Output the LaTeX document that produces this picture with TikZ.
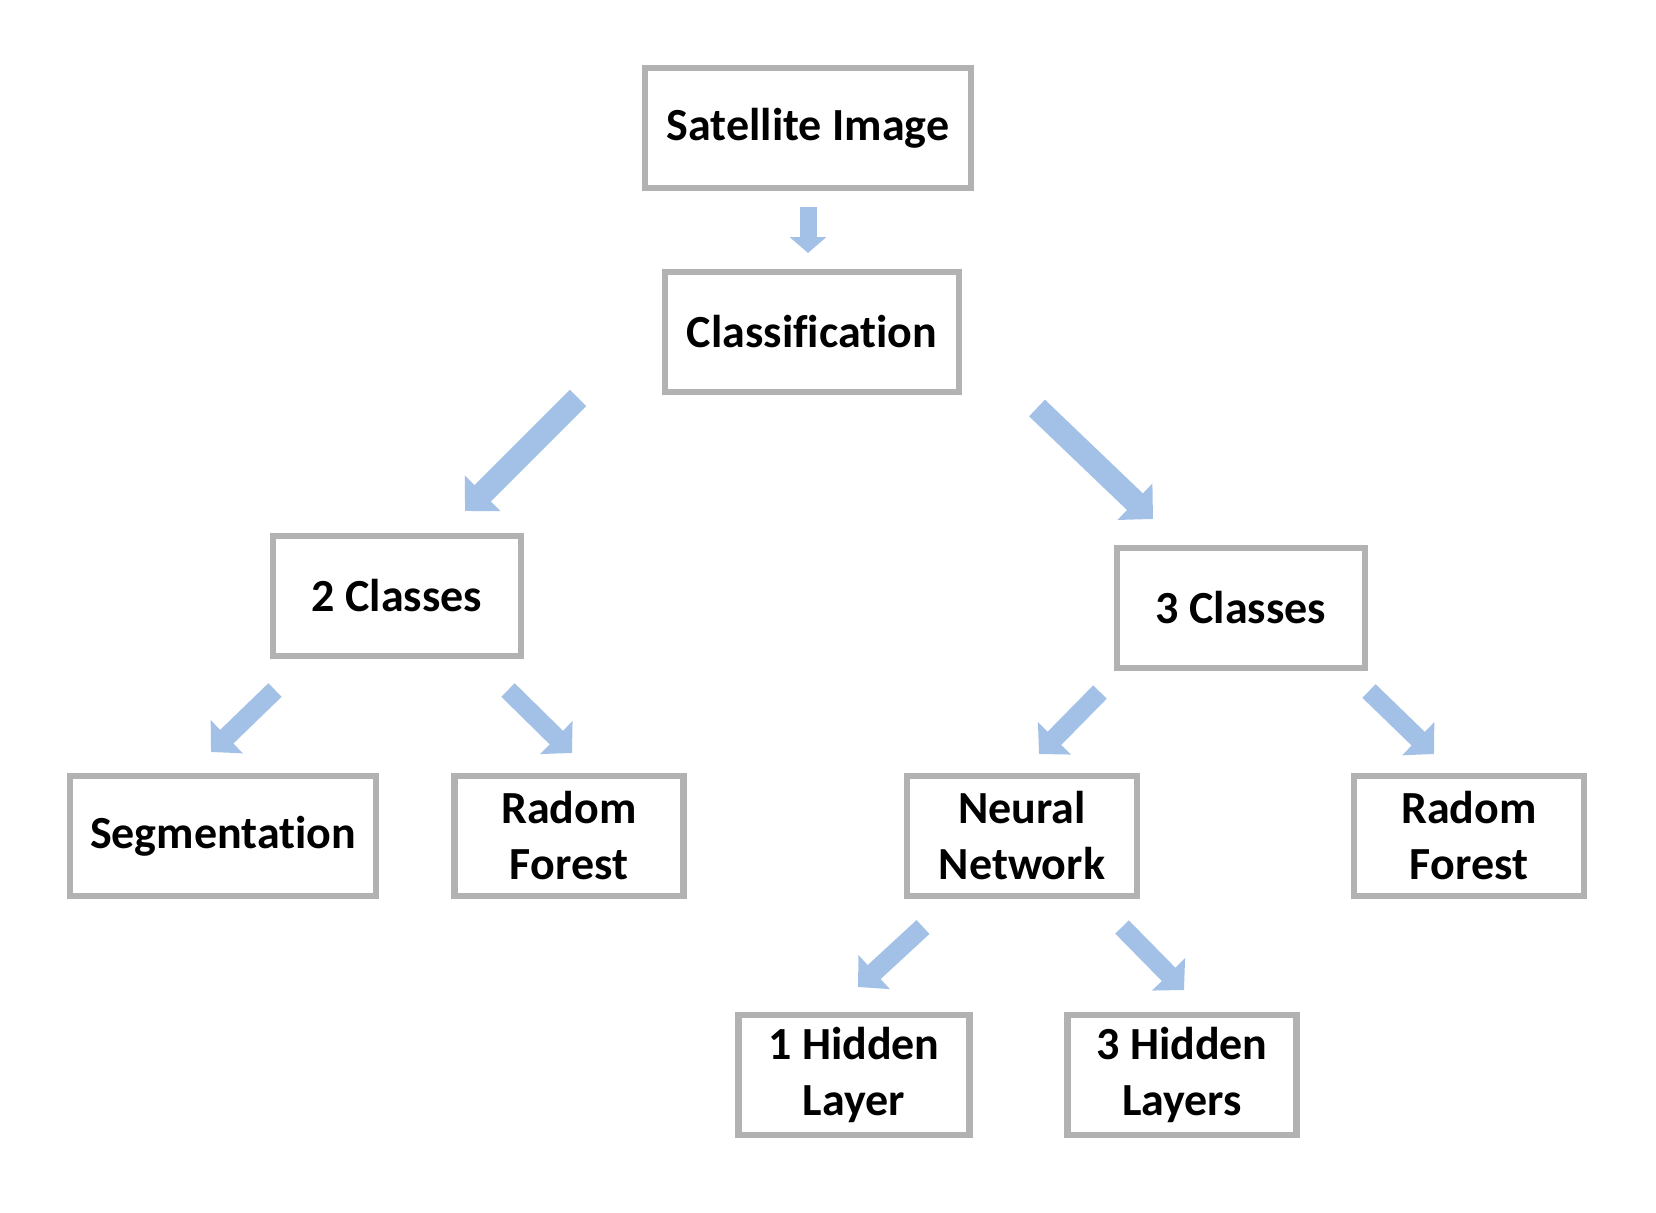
\documentclass[tikz,border=0pt]{standalone}
\usepackage{fontspec}
\setmainfont[Ligatures=NoCommon]{Carlito}
\usetikzlibrary{arrows.meta,shadows}

\definecolor{boxgray}{RGB}{178,178,178}
\definecolor{arrowblue}{RGB}{163,193,230}

\tikzset{
  box/.style={draw=boxgray, line width=6.5pt, fill=white, minimum height=120pt,
    align=center, font=\fontsize{46}{56}\selectfont\bfseries,
    drop shadow={shadow xshift=3pt, shadow yshift=-3pt, opacity=0.18}},
  bigarrow/.style={draw=arrowblue, line width=23pt,
    -{Triangle[width=49pt,length=25pt]}},
  smallarrow/.style={draw=arrowblue, line width=19pt,
    -{Triangle[width=45pt,length=22pt]}},
  tinyarrow/.style={draw=arrowblue, line width=17pt,
    -{Triangle[width=36pt,length=16pt]}}
}

\begin{document}
\begin{tikzpicture}[x=1pt,y=-1pt]
  \useasboundingbox (0,0) rectangle (1656,1212);

  % boxes
  \node[box, minimum width=326pt] (sat) at (808,128) {Satellite Image};
  \node[box, minimum width=294pt] (cls) at (812,332) {Classification};
  \node[box, minimum width=248pt] (two) at (397,596) {2 Classes};
  \node[box, minimum width=248pt] (three) at (1241,608) {3 Classes};
  \node[box, minimum width=306pt] (seg) at (223,836) {Segmentation};
  \node[box, minimum width=229pt] (rfl) at (569,836) {Radom\\Forest};
  \node[box, minimum width=230pt] (nn) at (1022,836) {Neural\\Network};
  \node[box, minimum width=230pt] (rfr) at (1469,836) {Radom\\Forest};
  \node[box, minimum width=231pt] (one) at (854,1075) {1 Hidden\\Layer};
  \node[box, minimum width=229pt] (hid) at (1182,1075) {3 Hidden\\Layers};

  % arrow ends
  \coordinate (sat-t) at (808,207);   \coordinate (sat-h) at (808,253);
  \coordinate (cls-lt) at (578,398);  \coordinate (cls-lh) at (465,511);
  \coordinate (cls-rt) at (1037,408); \coordinate (cls-rh) at (1153,519);
  \coordinate (two-lt) at (275,690);  \coordinate (two-lh) at (211,752);
  \coordinate (two-rt) at (508,690);  \coordinate (two-rh) at (572,753);
  \coordinate (three-lt) at (1100,692); \coordinate (three-lh) at (1039,754);
  \coordinate (three-rt) at (1369,691); \coordinate (three-rh) at (1434,754);
  \coordinate (nn-lt) at (923,927);   \coordinate (nn-lh) at (858,987);
  \coordinate (nn-rt) at (1122,927);  \coordinate (nn-rh) at (1184,990);

  % arrows
  \draw[tinyarrow] (sat-t) -- (sat-h);
  \draw[bigarrow] (cls-lt) -- (cls-lh);
  \draw[bigarrow] (cls-rt) -- (cls-rh);
  \draw[smallarrow] (two-lt) -- (two-lh);
  \draw[smallarrow] (two-rt) -- (two-rh);
  \draw[smallarrow] (three-lt) -- (three-lh);
  \draw[smallarrow] (three-rt) -- (three-rh);
  \draw[smallarrow] (nn-lt) -- (nn-lh);
  \draw[smallarrow] (nn-rt) -- (nn-rh);
\end{tikzpicture}
\end{document}
